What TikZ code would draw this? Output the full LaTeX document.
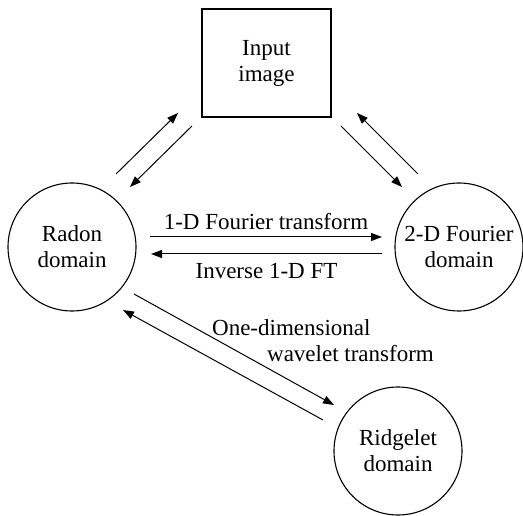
\documentclass[tikz,border=0pt]{standalone}
\usepackage{fontspec}
\setmainfont{Liberation Serif}
\usepackage{tikz}
\usetikzlibrary{arrows.meta,calc}

\begin{document}
\begin{tikzpicture}[x=1pt, y=-1pt,
  dom/.style={draw, circle, line width=1.1pt, minimum size=128pt, inner sep=0pt, align=center, font=\fontsize{23}{26}\selectfont},
  imgbox/.style={draw, rectangle, line width=1.1pt, minimum width=129pt, minimum height=108pt, align=center, font=\fontsize{23}{26}\selectfont},
  arr/.style={line width=1pt, -{Triangle[length=11pt,width=8pt]}},
  lbl/.style={font=\fontsize{23}{26}\selectfont, align=left}]
  \useasboundingbox (0,0) rectangle (523,516);
  \node[imgbox] (input) at (266.5,63) {Input\\image};
  \node[dom] (radon) at (72,247) {Radon\\domain};
  \node[dom] (fourier) at (459,247) {2-D Fourier\\domain};
  \node[dom] (ridge) at (398,451) {Ridgelet\\domain};
  % radon <-> input
  \draw[arr] ($(radon)+(44,-73)$) -- ($(input)+(-88.5,50)$);
  \draw[arr] ($(input)+(-74.5,63)$) -- ($(radon)+(58,-60)$);
  % input <-> fourier
  \draw[arr] ($(input)+(74.5,63)$) -- ($(fourier)+(-57,-60)$);
  \draw[arr] ($(fourier)+(-41,-73)$) -- ($(input)+(90.5,50)$);
  % radon <-> fourier
  \draw[arr] ($(radon)+(78,-10)$) -- ($(fourier)+(-77,-10)$) node[midway, above, yshift=3pt, lbl] {1-D Fourier transform};
  \draw[arr] ($(fourier)+(-77,7)$) -- ($(radon)+(79,7)$) node[midway, below, yshift=-5pt, lbl] {Inverse 1-D FT};
  % radon <-> ridgelet
  \draw[arr] ($(radon)+(62,47)$) -- ($(ridge)+(-64,-46)$) node[midway, xshift=89pt, yshift=9pt, lbl] {One-dimensional\\\hspace*{55pt}wavelet transform};
  \draw[arr] ($(ridge)+(-75,-31)$) -- ($(radon)+(51,63)$);
\end{tikzpicture}
\end{document}
